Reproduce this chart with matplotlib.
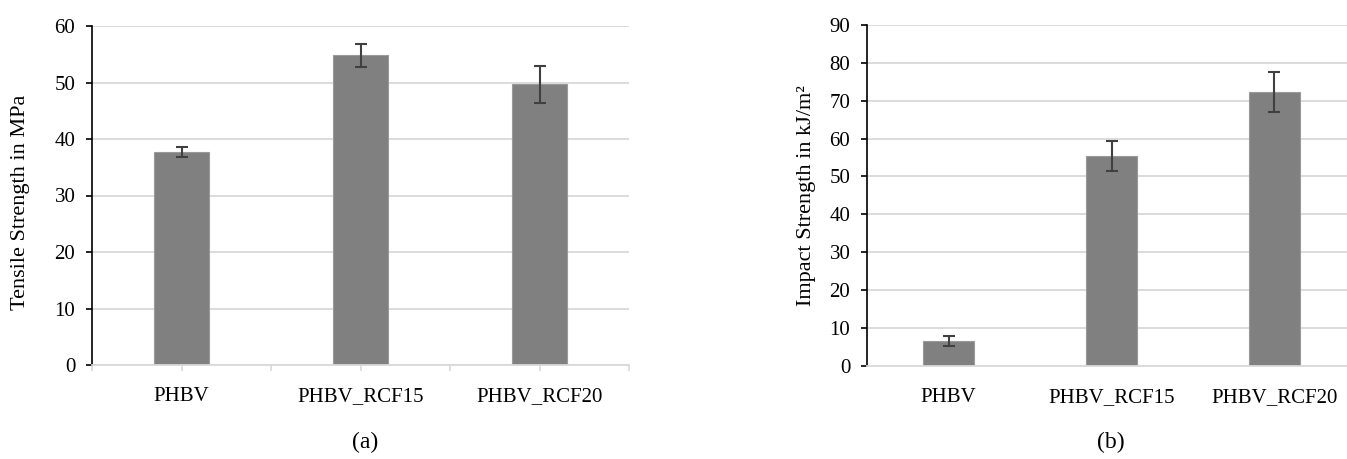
import matplotlib
matplotlib.use("Agg")
import matplotlib.pyplot as plt
import numpy as np

categories = ["PHBV", "PHBV_RCF15", "PHBV_RCF20"]
tensile = [37.7, 54.8, 49.7]
tensile_err = [0.8, 2.0, 3.3]
impact = [6.5, 55.4, 72.3]
impact_err = [1.4, 4.0, 5.2]

plt.rcParams['font.family'] = ['Liberation Serif', 'DejaVu Serif']

W, H = 1347, 459
fig = plt.figure(figsize=(W / 100, H / 100), dpi=100)

bar_color = '#808080'
edge_color = '#9a9a9a'
err_color = '#404040'
grid_color = '#d9d9d9'
fs = 15

def style(ax, ymax, step, xticks_on):
    ax.set_ylim(0, ymax)
    ax.set_yticks(np.arange(0, ymax + 1, step))
    ax.set_xlim(-0.5, len(categories) - 0.5)
    ax.set_xticks(range(len(categories)))
    ax.set_xticklabels(categories, fontsize=fs)
    ax.yaxis.grid(True, color=grid_color, lw=1.3)
    ax.set_axisbelow(True)
    for s in ['top', 'right']:
        ax.spines[s].set_visible(False)
    ax.spines['left'].set_color('black')
    ax.spines['left'].set_linewidth(1.2)
    ax.spines['bottom'].set_color(grid_color)
    ax.spines['bottom'].set_linewidth(1.3)
    ax.tick_params(axis='y', direction='out', length=4, width=1.2, color='black',
                   labelsize=fs, pad=8)
    if xticks_on:
        ax.set_xticks(np.arange(-0.5, len(categories), 1.0), minor=True)
        ax.tick_params(axis='x', which='both', direction='out', length=4, width=1.2,
                       color=grid_color, pad=12)
    else:
        ax.tick_params(axis='x', which='both', length=0, pad=16)

ax1 = fig.add_axes([92 / W, 1 - 365 / H, 537 / W, 339 / H])
x = np.arange(len(categories))
ax1.bar(x, tensile, width=0.31, color=bar_color, edgecolor=edge_color, linewidth=0.8,
        yerr=tensile_err, error_kw=dict(ecolor=err_color, elinewidth=1.5, capsize=4, capthick=1.5))
style(ax1, 60, 10, True)
ax1.set_ylabel("Tensile Strength in MPa", fontsize=16)
ax1.yaxis.set_label_coords(-0.115, 0.48)

ax2 = fig.add_axes([867 / W, 1 - 365.7 / H, 489 / W, 340.7 / H])
ax2.bar(x, impact, width=0.31, color=bar_color, edgecolor=edge_color, linewidth=0.8,
        yerr=impact_err, error_kw=dict(ecolor=err_color, elinewidth=1.5, capsize=4, capthick=1.5))
style(ax2, 90, 10, False)
ax2.set_ylabel("Impact Strength in kJ/m²", fontsize=16)
ax2.yaxis.set_label_coords(-0.104, 0.5)

fig.text(365 / W, 1 - 442 / H, "(a)", ha='center', va='center', fontsize=17)
fig.text(1111 / W, 1 - 442 / H, "(b)", ha='center', va='center', fontsize=17)

fig.savefig("out.png", dpi=100)
